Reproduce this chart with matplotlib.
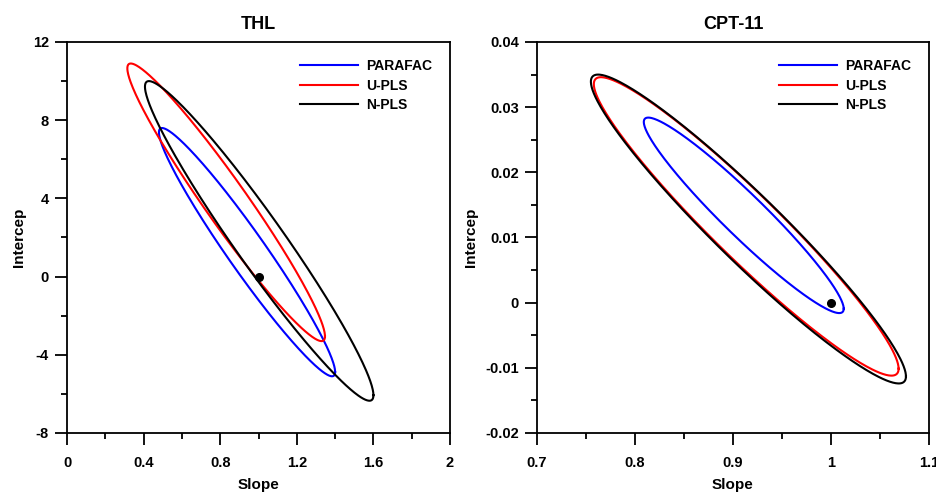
import numpy as np
import matplotlib
matplotlib.use("Agg")
import matplotlib.pyplot as plt
from matplotlib.ticker import MultipleLocator, FuncFormatter

plt.rcParams['font.family'] = ['Liberation Sans', 'DejaVu Sans']
plt.rcParams['font.weight'] = 'bold'

methods = ["PARAFAC", "U-PLS", "N-PLS"]
colors = ["#0000ff", "#ff0000", "#000000"]

# Elliptical joint confidence regions: x-range, y-range, correlation
thl_slope_min = [0.48, 0.315, 0.407]
thl_slope_max = [1.40, 1.347, 1.600]
thl_int_min = [-5.1, -3.3, -6.35]
thl_int_max = [7.6, 10.9, 10.0]
thl_rho = [-0.965, -0.965, -0.965]

cpt_slope_min = [0.809, 0.758, 0.755]
cpt_slope_max = [1.013, 1.069, 1.0765]
cpt_int_min = [-0.0016, -0.0112, -0.0124]
cpt_int_max = [0.0284, 0.0346, 0.0350]
cpt_rho = [-0.955, -0.953, -0.954]

ideal_point = (1.0, 0.0)


def ellipse(xmin, xmax, ymin, ymax, rho, n=400):
    t = np.linspace(0, 2 * np.pi, n)
    cx, cy = (xmin + xmax) / 2, (ymin + ymax) / 2
    a, b = (xmax - xmin) / 2, (ymax - ymin) / 2
    d = np.arccos(rho)
    return cx + a * np.cos(t), cy + b * np.cos(t + d)


fig = plt.figure(figsize=(9.36, 4.97), dpi=100)
ax1 = fig.add_axes([0.0716, 0.1288, 0.4092, 0.7867])
ax2 = fig.add_axes([0.5737, 0.1288, 0.4188, 0.7867])


def fmt(v, pos):
    return "%g" % round(v, 6)


panels = [
    (ax1, "THL", thl_slope_min, thl_slope_max, thl_int_min, thl_int_max, thl_rho,
     (0, 2), (-8, 12), 0.4, 0.2, 4, 2),
    (ax2, "CPT-11", cpt_slope_min, cpt_slope_max, cpt_int_min, cpt_int_max, cpt_rho,
     (0.7, 1.1), (-0.02, 0.04), 0.1, 0.05, 0.01, 0.005),
]

for (ax, title, xmn, xmx, ymn, ymx, rho, xl, yl, xM, xm, yM, ym) in panels:
    for i in range(3):
        x, y = ellipse(xmn[i], xmx[i], ymn[i], ymx[i], rho[i])
        ax.plot(x, y, color=colors[i], lw=1.5, label=methods[i])
    ax.plot([ideal_point[0]], [ideal_point[1]], 'o', color='black', ms=5.5)
    ax.set_xlim(*xl)
    ax.set_ylim(*yl)
    ax.xaxis.set_major_locator(MultipleLocator(xM))
    ax.xaxis.set_minor_locator(MultipleLocator(xm))
    ax.yaxis.set_major_locator(MultipleLocator(yM))
    ax.yaxis.set_minor_locator(MultipleLocator(ym))
    ax.xaxis.set_major_formatter(FuncFormatter(fmt))
    ax.yaxis.set_major_formatter(FuncFormatter(fmt))
    ax.tick_params(which='major', direction='out', length=8.5, width=1.3,
                   labelsize=10.5)
    ax.tick_params(which='minor', direction='out', length=4.5, width=1.3)
    ax.tick_params(axis='x', which='major', pad=8)
    ax.tick_params(axis='y', which='major', pad=4.5)
    for s in ax.spines.values():
        s.set_linewidth(1.3)
    ax.set_title(title, fontsize=13, fontweight='bold', pad=9)
    ax.set_xlabel("Slope", fontsize=11, fontweight='bold', labelpad=6)
    ax.set_ylabel("Intercep", fontsize=11, fontweight='bold', labelpad=5)
    w = ax.get_position().width * 936
    h = ax.get_position().height * 497
    leg = ax.legend(loc='upper right', bbox_to_anchor=(1 - 18 / w, 1 - 17 / h),
                    frameon=False, borderpad=0, borderaxespad=0,
                    fontsize=10, handlelength=4.2, handletextpad=0.58,
                    labelspacing=0.4)
    for txt in leg.get_texts():
        txt.set_fontweight('bold')

fig.savefig("out.png", dpi=100)
